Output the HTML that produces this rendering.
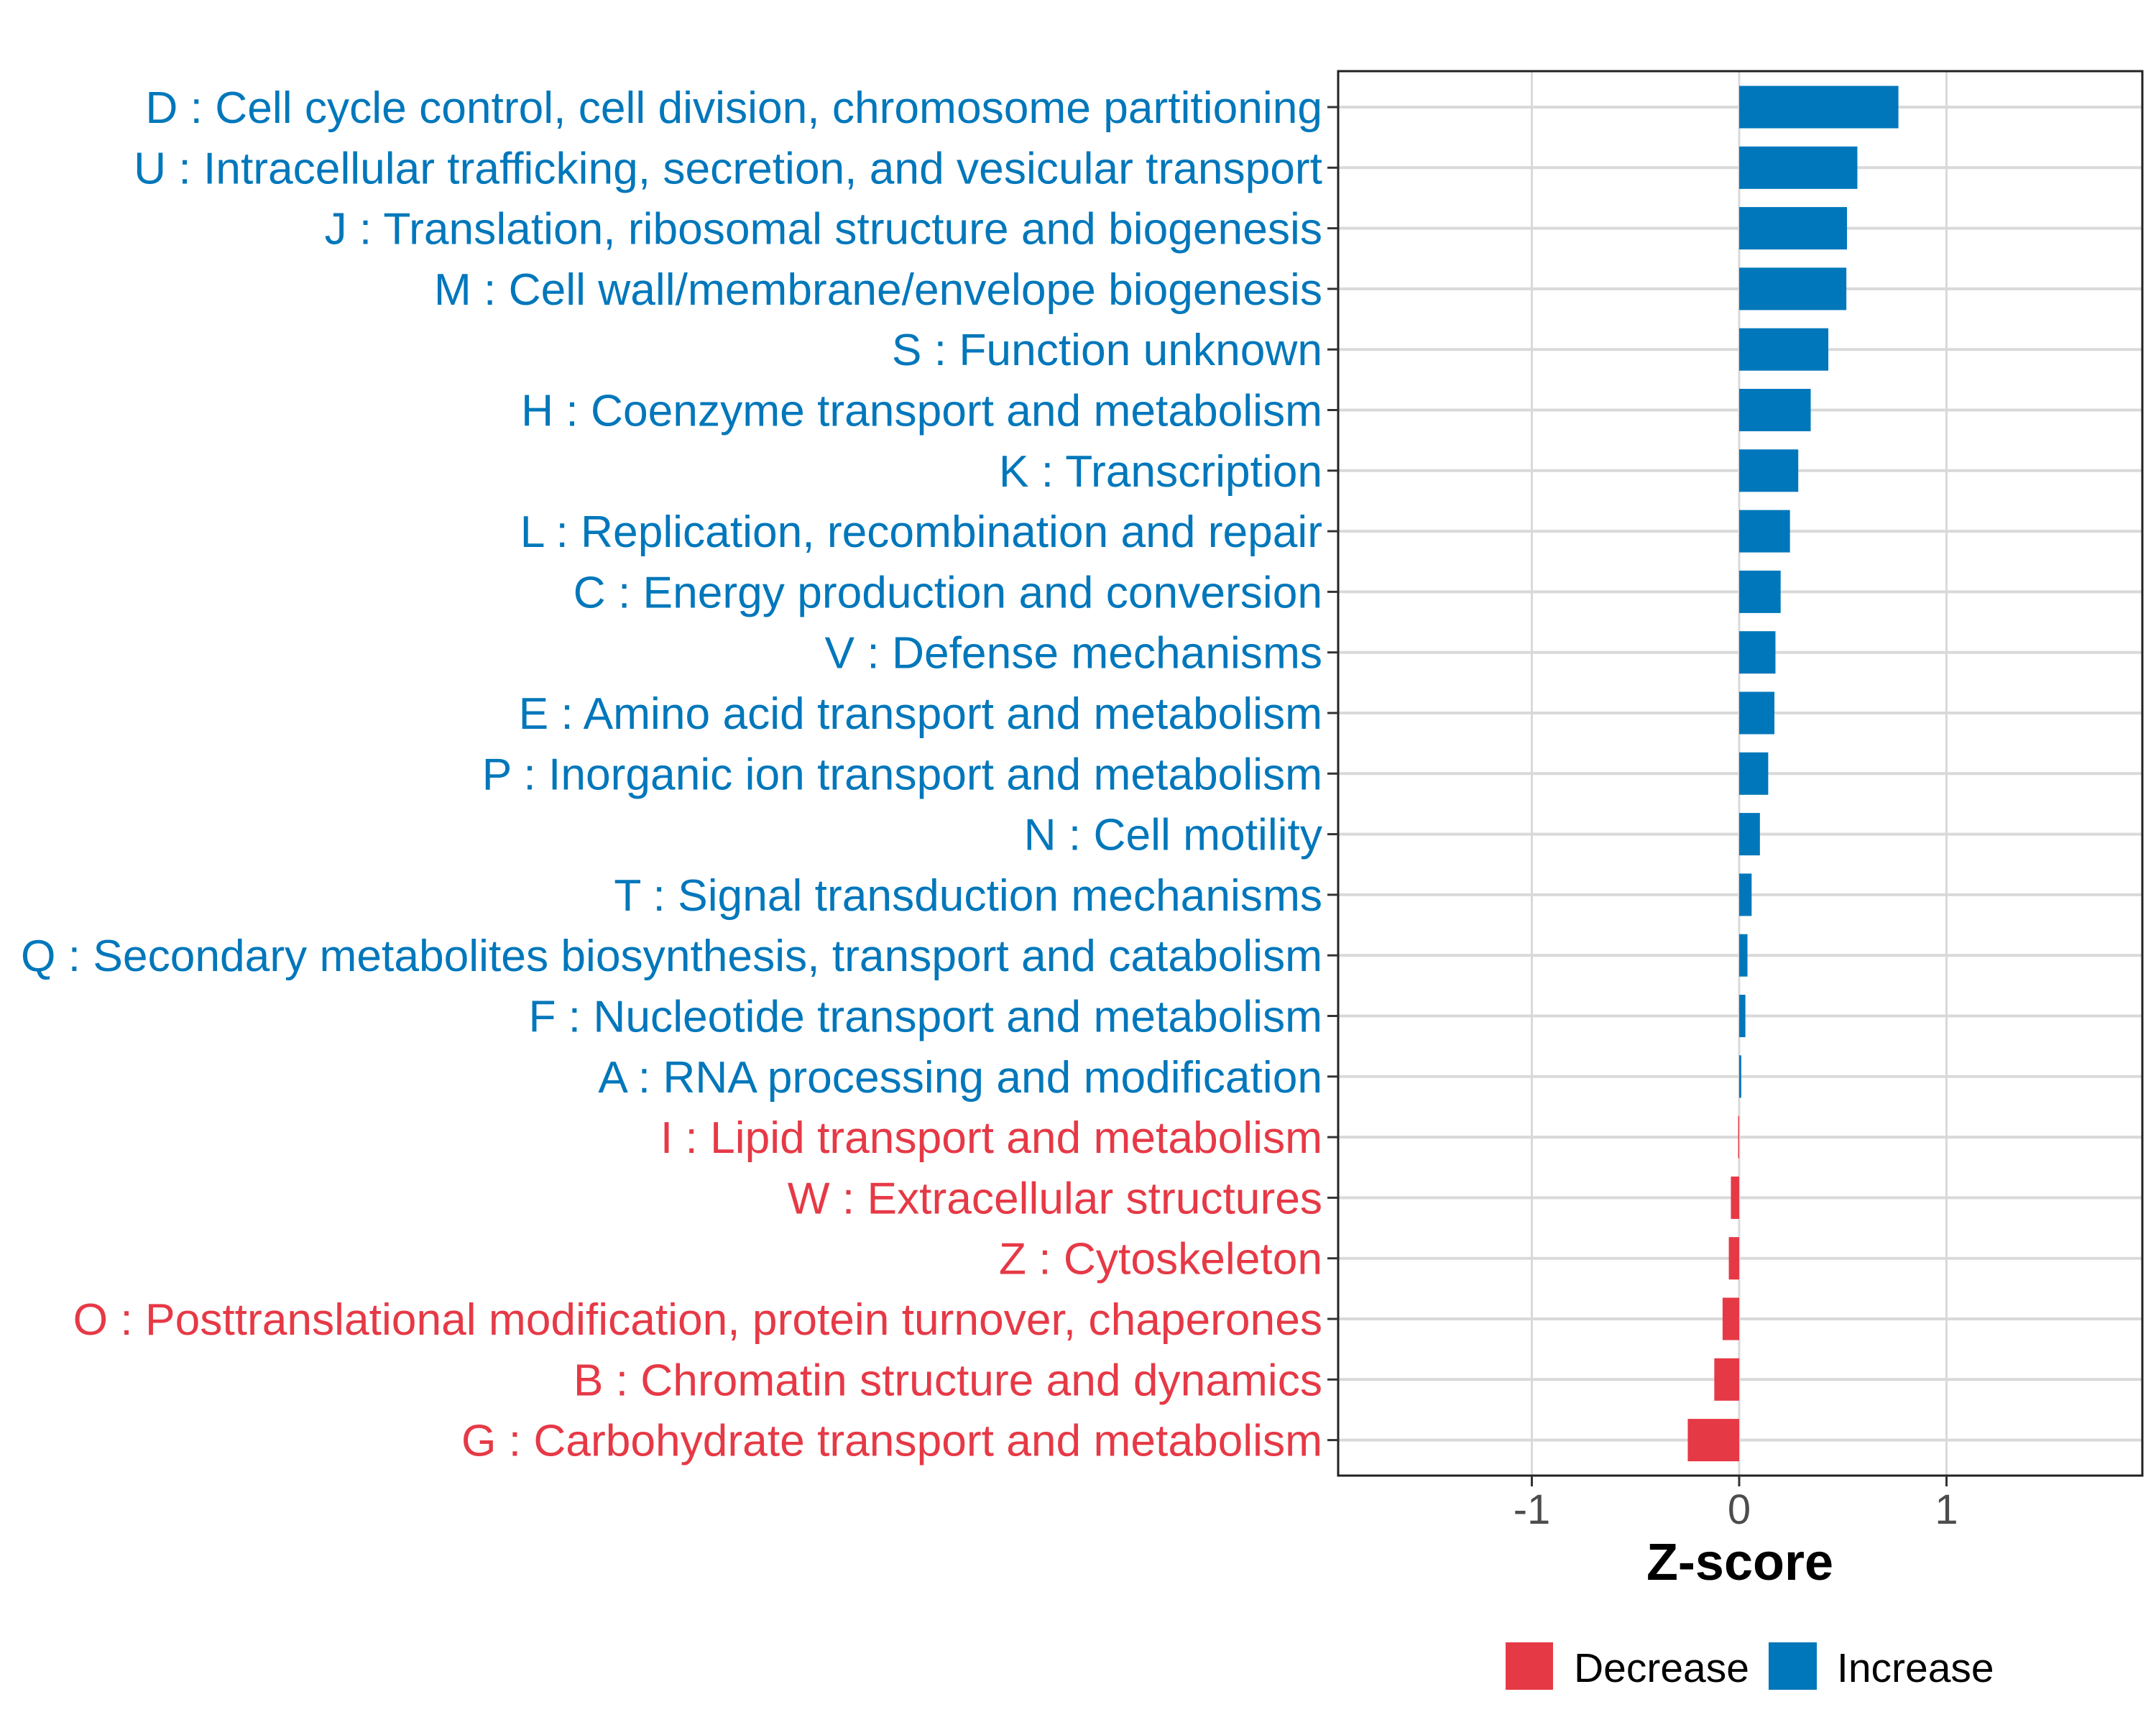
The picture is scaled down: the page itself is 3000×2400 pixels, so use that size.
<!DOCTYPE html>
<html><head><meta charset="utf-8"><style>
html,body{margin:0;padding:0;background:#fff;}
svg{display:block;font-family:"Liberation Sans",Arial,sans-serif;}
</style></head><body>
<svg id="chart" width="3000" height="2400" viewBox="0 0 3000 2400">
<rect x="0" y="0" width="3000" height="2400" fill="#fff"/>
<g id="grid"></g>
<g id="bars"></g>
<rect x="1862" y="99" width="1119" height="1954" fill="none" stroke="#222" stroke-width="3"/>
<g id="ylabels"></g>
<g id="xaxis"></g>
<text x="2421" y="2198" font-size="72" font-weight="bold" text-anchor="middle" fill="#000">Z-score</text>
<g>
<rect x="2095" y="2285" width="66" height="66" fill="#E63946"/>
<text x="2190" y="2340" font-size="57" fill="#000">Decrease</text>
<rect x="2461" y="2285" width="67" height="66" fill="#0077BB"/>
<text x="2556" y="2340" font-size="57" fill="#000">Increase</text>
</g>
</svg>
<script>
const categories = [
"D : Cell cycle control, cell division, chromosome partitioning",
"U : Intracellular trafficking, secretion, and vesicular transport",
"J : Translation, ribosomal structure and biogenesis",
"M : Cell wall/membrane/envelope biogenesis",
"S : Function unknown",
"H : Coenzyme transport and metabolism",
"K : Transcription",
"L : Replication, recombination and repair",
"C : Energy production and conversion",
"V : Defense mechanisms",
"E : Amino acid transport and metabolism",
"P : Inorganic ion transport and metabolism",
"N : Cell motility",
"T : Signal transduction mechanisms",
"Q : Secondary metabolites biosynthesis, transport and catabolism",
"F : Nucleotide transport and metabolism",
"A : RNA processing and modification",
"I : Lipid transport and metabolism",
"W : Extracellular structures",
"Z : Cytoskeleton",
"O : Posttranslational modification, protein turnover, chaperones",
"B : Chromatin structure and dynamics",
"G : Carbohydrate transport and metabolism"
];
const zscores = [0.768,0.57,0.52,0.517,0.43,0.345,0.285,0.245,0.20,0.175,0.17,0.14,0.10,0.06,0.04,0.03,0.01,-0.005,-0.04,-0.05,-0.08,-0.12,-0.248];
const xTicks = [-1,0,1];
const xTickLabels = ["-1","0","1"];

const NS="http://www.w3.org/2000/svg";
const X0=2420, XS=288.5, Y0=149, YS=84.3, BARH=59;
const BLUE="#0077BB", RED="#E63946";
function xScale(v){return X0+v*XS;}
function yScale(i){return Y0+i*YS;}
function mk(tag,attrs){const e=document.createElementNS(NS,tag);for(const k in attrs)e.setAttribute(k,attrs[k]);return e;}
const grid=document.getElementById('grid'), bars=document.getElementById('bars'),
 yl=document.getElementById('ylabels'), xa=document.getElementById('xaxis');
xTicks.forEach((t,i)=>{
 const l=mk('line',{x1:xScale(t),x2:xScale(t),y1:99,y2:2053,stroke:'#d9d9d9','stroke-width':3});
 
 
 grid.appendChild(l);
 const tk=mk('line',{x1:xScale(t),x2:xScale(t),y1:2053,y2:2068,stroke:'#333','stroke-width':3});
 
 
 xa.appendChild(tk);
 const tx=mk('text',{x:xScale(t),y:2120,'font-size':58,'text-anchor':'middle',fill:'#4d4d4d'});
 tx.textContent=xTickLabels[i];
 
 
 xa.appendChild(tx);
});
categories.forEach((c,i)=>{
 const y=yScale(i), v=zscores[i], col=v>=0?BLUE:RED;
 const g=mk('line',{x1:1862,x2:2981,y1:y,y2:y,stroke:'#d9d9d9','stroke-width':4});
 
 
 grid.appendChild(g);
 const x1=Math.min(xScale(0),xScale(v)), w=Math.abs(xScale(v)-xScale(0));
 const r=mk('rect',{x:x1,y:y-BARH/2,width:Math.max(w,1),height:BARH,fill:col});
 
 
 bars.appendChild(r);
 const tk=mk('line',{x1:1847,x2:1862,y1:y,y2:y,stroke:'#333','stroke-width':3});
 
 
 yl.appendChild(tk);
 const t=mk('text',{x:1840,y:y+22,'font-size':62.3,'text-anchor':'end',fill:col});
 t.textContent=c;
 
 
 yl.appendChild(t);
});
</script>
</body></html>
